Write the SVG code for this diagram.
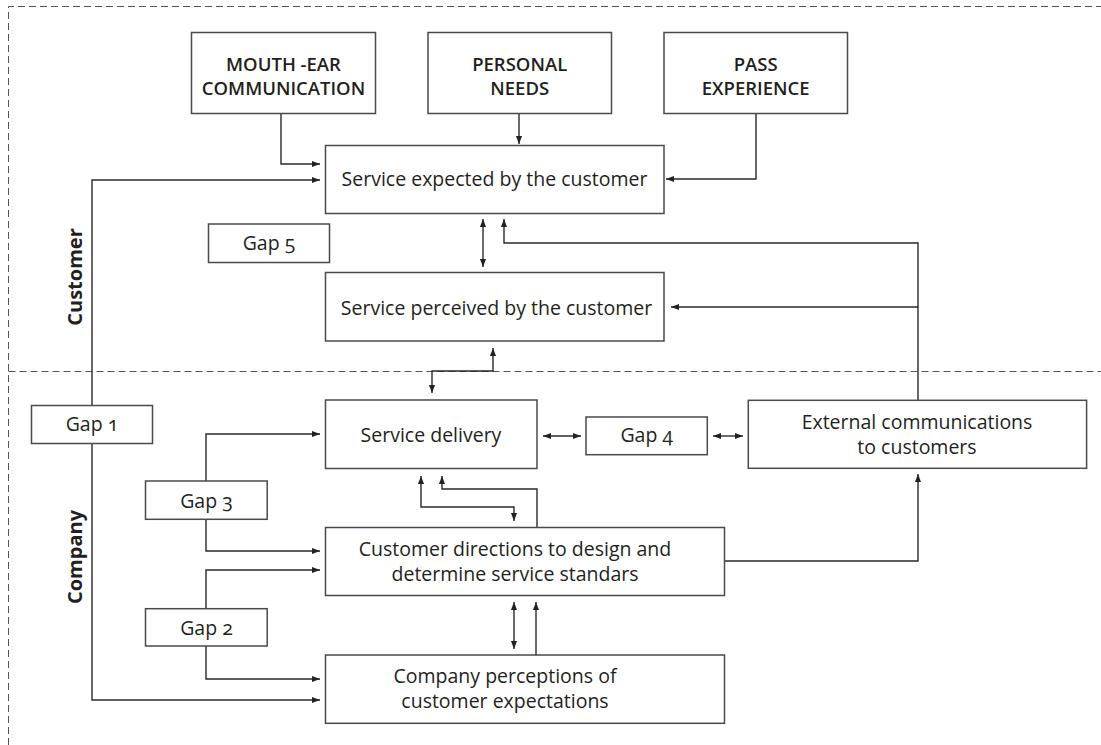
<svg xmlns="http://www.w3.org/2000/svg" width="1101" height="745" viewBox="0 0 1101 745">
<defs>
<style>
.bx{fill:#fff;stroke:#4a4a4a;stroke-width:1.5}
.t{font-family:"Open Sans","Noto Sans","Liberation Sans",sans-serif;font-size:19.5px;fill:#231f20;text-anchor:middle;font-variant-numeric:oldstyle-nums}
.h{font-weight:600;font-size:18.5px}
.lb{font-weight:700;font-size:20px}
.c{fill:none;stroke:#2a2a2a;stroke-width:1.4}
.d{fill:none;stroke:#555;stroke-width:1;stroke-dasharray:7 4}
</style>
<marker id="ah" viewBox="0 0 10 10" refX="10" refY="5" markerWidth="8" markerHeight="8" markerUnits="userSpaceOnUse" orient="auto-start-reverse">
<path d="M0,1.2 L10,5 L0,8.8 z" fill="#222"/>
</marker>
</defs>
<rect width="1101" height="745" fill="#fff"/>
<g id="frame">
<path class="d" d="M8.5,745 V6.5 H1101"/>
<path class="d" d="M8.5,371.5 H1101"/>
</g>
<g id="connectors">
<path class="c" d="M281,113 V164 H320" marker-end="url(#ah)"/>
<path class="c" d="M519,113 V144" marker-end="url(#ah)"/>
<path class="c" d="M756,113 V179 H666" marker-end="url(#ah)"/>
<path class="c" d="M92,405 V180 H320" marker-end="url(#ah)"/>
<path class="c" d="M92,443 V700 H320" marker-end="url(#ah)"/>
<path class="c" d="M483,219 V267" marker-start="url(#ah)" marker-end="url(#ah)"/>
<path class="c" d="M918,400 V243 H504 V219" marker-end="url(#ah)"/>
<path class="c" d="M918,307 H671" marker-end="url(#ah)"/>
<path class="c" d="M493,348 V371 H432 V393" marker-start="url(#ah)" marker-end="url(#ah)"/>
<path class="c" d="M543,436 H581" marker-start="url(#ah)" marker-end="url(#ah)"/>
<path class="c" d="M713,436 H743" marker-start="url(#ah)" marker-end="url(#ah)"/>
<path class="c" d="M421,476 V507 H514 V521" marker-start="url(#ah)" marker-end="url(#ah)"/>
<path class="c" d="M537,527 V489 H442 V476" marker-end="url(#ah)"/>
<path class="c" d="M724,561 H918 V474" marker-end="url(#ah)"/>
<path class="c" d="M514,602 V649" marker-start="url(#ah)" marker-end="url(#ah)"/>
<path class="c" d="M536,655 V602" marker-end="url(#ah)"/>
<path class="c" d="M206,481 V434 H320" marker-end="url(#ah)"/>
<path class="c" d="M206,519 V551 H320" marker-end="url(#ah)"/>
<path class="c" d="M206,609 V570 H320" marker-end="url(#ah)"/>
<path class="c" d="M206,646 V679 H320" marker-end="url(#ah)"/>
</g>
<g id="mouth-ear">
<rect class="bx" x="191.5" y="32.5" width="184" height="81"/>
<text class="t h" x="283.5" y="70.5">MOUTH -EAR<tspan x="283.5" y="95">COMMUNICATION</tspan></text>
</g>
<g id="personal-needs">
<rect class="bx" x="428" y="32.5" width="183.5" height="81"/>
<text class="t h" x="519.7" y="70.5">PERSONAL<tspan x="519.7" y="95">NEEDS</tspan></text>
</g>
<g id="pass-experience">
<rect class="bx" x="664" y="32.5" width="183.5" height="81"/>
<text class="t h" x="755.7" y="70.5">PASS<tspan x="755.7" y="95">EXPERIENCE</tspan></text>
</g>
<g id="service-expected">
<rect class="bx" x="325.5" y="145.5" width="338.5" height="68"/>
<text class="t" x="494.5" y="186">Service expected by the customer</text>
</g>
<g id="gap5">
<rect class="bx" x="208.5" y="224" width="121" height="38.5"/>
<text class="t" x="269" y="250">Gap 5</text>
</g>
<g id="service-perceived">
<rect class="bx" x="325.5" y="272.5" width="338.5" height="68.5"/>
<text class="t" x="496.5" y="315">Service perceived by the customer</text>
</g>
<g id="gap1">
<rect class="bx" x="31.5" y="405.5" width="121" height="38"/>
<text class="t" x="92" y="431">Gap 1</text>
</g>
<g id="service-delivery">
<rect class="bx" x="325.5" y="400" width="211.5" height="68.5"/>
<text class="t" x="431" y="442">Service delivery</text>
</g>
<g id="gap4">
<rect class="bx" x="586" y="417" width="121.3" height="37.7"/>
<text class="t" x="646.7" y="442">Gap 4</text>
</g>
<g id="external-communications">
<rect class="bx" x="748.3" y="400.3" width="338.3" height="68"/>
<text class="t" x="917" y="428.5">External communications<tspan x="917" y="453.5">to customers</tspan></text>
</g>
<g id="gap3">
<rect class="bx" x="145.5" y="481" width="121.7" height="38.3"/>
<text class="t" x="206.5" y="508">Gap 3</text>
</g>
<g id="customer-directions">
<rect class="bx" x="325.5" y="527.5" width="399" height="68"/>
<text class="t" x="515" y="555.5">Customer directions to design and<tspan x="515" y="580.5">determine service standars</tspan></text>
</g>
<g id="gap2">
<rect class="bx" x="145.5" y="608.7" width="121.7" height="37.3"/>
<text class="t" x="206.5" y="635">Gap 2</text>
</g>
<g id="company-perceptions">
<rect class="bx" x="325.5" y="655" width="399" height="68.3"/>
<text class="t" x="505" y="683">Company perceptions of<tspan x="505" y="708">customer expectations</tspan></text>
</g>
<g id="labels">
<text class="t lb" transform="translate(82,277) rotate(-90)">Customer</text>
<text class="t lb" transform="translate(82,557) rotate(-90)">Company</text>
</g>
</svg>
